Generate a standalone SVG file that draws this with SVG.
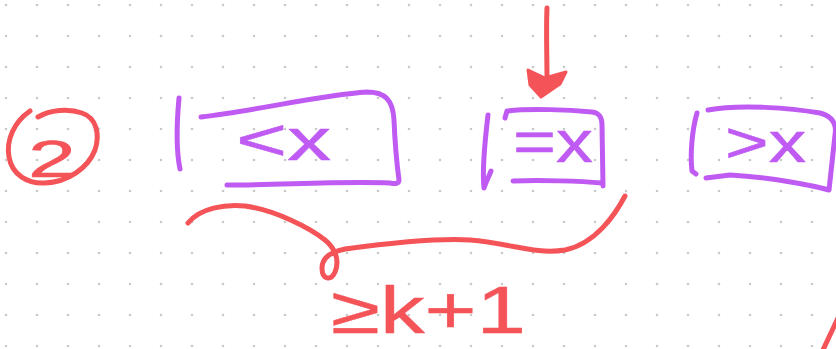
<svg xmlns="http://www.w3.org/2000/svg" width="836" height="349" viewBox="0 0 836 349">
  <defs>
    <pattern id="dots" x="0" y="0" width="31" height="31" patternUnits="userSpaceOnUse">
      <circle cx="6" cy="5" r="1.3" fill="#c9c9c9"/>
    </pattern>
    <style>
      .ink { fill: none; stroke-width: 5; stroke-linecap: round; stroke-linejoin: round; }
      .red { stroke: #f45458; }
      .purple { stroke: #bf5af2; }
      .hand { font-family: "Liberation Sans", Arial, sans-serif; stroke-width: 0.5; stroke-linejoin: round; }
      .hand.r { fill: #f45458; stroke: #f45458; }
      .hand.p { fill: #bf5af2; stroke: #bf5af2; }
    </style>
  </defs>

  <!-- dotted paper -->
  <rect width="836" height="349" fill="#ffffff"/>
  <rect width="836" height="349" fill="url(#dots)"/>

  <!-- step marker: circled 2 -->
  <g id="step-2">
    <path class="ink red" d="M30,111 C14,122 6,140 9,157 C12,175 28,184 45,183 C68,182 88,168 95,150 C100,135 97,118 82,113 C68,108 50,110 38,117"/>
    <text class="hand r" x="28" y="177" font-size="52" textLength="48" lengthAdjust="spacingAndGlyphs">2</text>
  </g>

  <!-- partition: less than x -->
  <g id="part-less">
    <path class="ink purple" d="M179,98 C177,120 176,150 180,169"/>
    <path class="ink purple" d="M201,117 C260,110 320,95 367,92 C385,92 393,100 394,120 C395,145 397,165 399,180 C399,184 395,184 390,183 C340,181 280,185 227,185"/>
    <text class="hand p" x="236" y="160" font-size="60" textLength="95" lengthAdjust="spacingAndGlyphs">&lt;x</text>
  </g>

  <!-- partition: equal to x -->
  <g id="part-equal">
    <path class="ink purple" d="M488,115 C485,140 482,170 484,188 C486,182 489,176 491,171"/>
    <path class="ink purple" d="M505,118 L507,111 C530,108 570,110 592,112 C600,113 602,118 602,125 L603,186 M602,183 C580,181 540,180 513,181"/>
    <text class="hand p" x="513" y="162" font-size="60" textLength="80" lengthAdjust="spacingAndGlyphs">=x</text>
  </g>

  <!-- partition: greater than x -->
  <g id="part-greater">
    <path class="ink purple" d="M697,113 C692,130 690,155 692,171 L696,174"/>
    <path class="ink purple" d="M708,110 C740,104 790,108 820,113 C832,116 837,124 835,135 L829,190 C815,186 770,177 730,175 L706,178"/>
    <text class="hand p" x="725" y="162" font-size="58" textLength="81" lengthAdjust="spacingAndGlyphs">&gt;x</text>
  </g>

  <!-- size note -->
  <g id="size-note">
    <text class="hand r" x="331" y="333" font-size="66" textLength="195" lengthAdjust="spacingAndGlyphs">≥k+1</text>
  </g>

  <!-- connectors -->
  <g id="connectors">
    <path class="ink red" d="M547,8 C546,30 547,55 547,80"/>
    <polygon points="528,70 545,78 566,72 560,84 541,97 530,85" fill="#f45458" stroke="#f45458" stroke-width="3" stroke-linejoin="round"/>
    <path class="ink red" d="M188,223 C200,208 225,204 245,206 C275,210 310,228 325,240 C335,248 340,260 335,272 C331,281 322,280 322,268 C322,258 330,252 345,249 C390,243 440,238 470,240 C510,243 535,255 565,250 C595,244 615,215 625,196"/>
    <path class="ink red" d="M822,352 L838,318"/>
  </g>
</svg>
